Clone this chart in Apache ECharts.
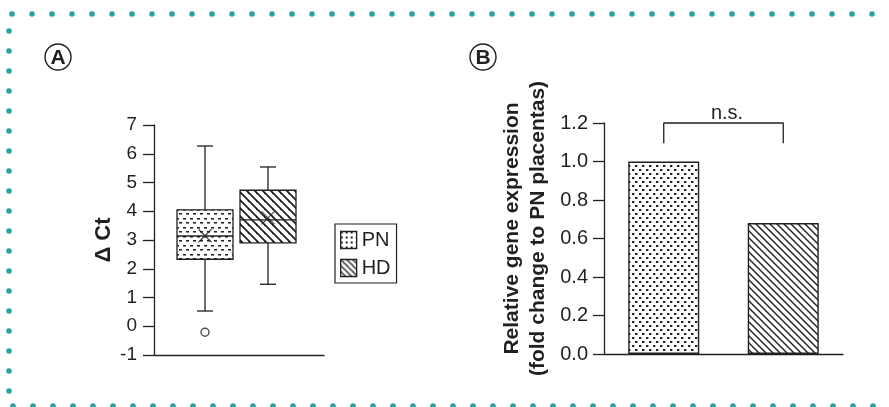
<!DOCTYPE html>
<html>
<head>
<meta charset="utf-8">
<script src="https://cdn.jsdelivr.net/npm/echarts@6/dist/echarts.min.js"></script>
<style>
html,body{margin:0;padding:0;background:#fff;}
#chart{width:889px;height:407px;}
</style>
</head>
<body>
<div id="chart"></div>
<script>
// ---------- DATA ----------
const groups = ['PN', 'HD'];
// [min, Q1, median, Q3, max]
const pnBox = [0.53, 2.33, 3.14, 4.05, 6.27];
const hdBox = [1.46, 2.90, 3.70, 4.73, 5.54];
const meanValues = [3.15, 3.77];
const pnOutliers = [-0.21];
const deltaCtTicks = { min: -1, max: 7, interval: 1 };
const relExpression = [1.0, 0.68];
const relTicks = { min: 0, max: 1.2, interval: 0.2 };
const bracketTop = 1.2;
const bracketBottom = 1.095;
const sigLabel = 'n.s.';

// ---------- STYLE ----------
const INK = '#231f20';
const TEAL = '#27a29f';
const FONT = '"Liberation Sans", Arial, Helvetica, sans-serif';

function makePattern(w, h, draw) {
  const c = document.createElement('canvas');
  c.width = w; c.height = h;
  const ctx = c.getContext('2d');
  ctx.fillStyle = '#fff';
  ctx.fillRect(0, 0, w, h);
  draw(ctx, w, h);
  return { image: c, repeat: 'repeat' };
}
function hatch(s, lw) {
  return makePattern(s, s, (ctx) => {
    ctx.strokeStyle = INK;
    ctx.lineWidth = lw;
    for (let k = -1; k <= 1; k++) {
      ctx.beginPath();
      ctx.moveTo(k * s - 1, -1);
      ctx.lineTo(k * s + s + 1, s + 1);
      ctx.stroke();
    }
  });
}
const dashPatA = makePattern(7, 9, (ctx) => {
  ctx.fillStyle = INK;
  ctx.fillRect(1, 2, 3, 1);
  ctx.fillRect(4, 6, 3, 1);
  ctx.fillStyle = 'rgba(35,31,32,0.55)';
  ctx.fillRect(1, 3, 3, 1);
  ctx.fillRect(4, 7, 3, 1);
});
const hatchPatA = hatch(8, 1.8);
const dotPatB = makePattern(7, 8, (ctx) => {
  ctx.fillStyle = INK;
  ctx.fillRect(2, 1, 2, 2);
  ctx.fillRect(5, 5, 2, 2);
  ctx.fillStyle = 'rgba(35,31,32,0.35)';
  ctx.fillRect(4, 1, 1, 2);
  ctx.fillRect(0, 5, 1, 2);
});
const hatchPatB = hatch(7, 1.4);
const legendPN = makePattern(5, 5, (ctx) => {
  ctx.fillStyle = INK;
  ctx.fillRect(0, 0, 2, 2);
});

const BOX_W = 56, CAP_W = 16;

function renderBox(pattern) {
  return function (params, api) {
    const x = api.value(0);
    const pMin = api.coord([x, api.value(1)]);
    const pQ1 = api.coord([x, api.value(2)]);
    const pMed = api.coord([x, api.value(3)]);
    const pQ3 = api.coord([x, api.value(4)]);
    const pMax = api.coord([x, api.value(5)]);
    const cx = pMed[0];
    const ls = { stroke: INK, lineWidth: 1.3 };
    return {
      type: 'group',
      children: [
        { type: 'line', shape: { x1: cx, y1: pQ3[1], x2: cx, y2: pMax[1] }, style: ls },
        { type: 'line', shape: { x1: cx, y1: pQ1[1], x2: cx, y2: pMin[1] }, style: ls },
        { type: 'line', shape: { x1: cx - CAP_W / 2, y1: pMax[1], x2: cx + CAP_W / 2, y2: pMax[1] }, style: ls },
        { type: 'line', shape: { x1: cx - CAP_W / 2, y1: pMin[1], x2: cx + CAP_W / 2, y2: pMin[1] }, style: ls },
        { type: 'rect', shape: { x: cx - BOX_W / 2, y: pQ3[1], width: BOX_W, height: pQ1[1] - pQ3[1] },
          style: { fill: pattern, stroke: INK, lineWidth: 1.3 } },
        { type: 'line', shape: { x1: cx - BOX_W / 2, y1: pMed[1], x2: cx + BOX_W / 2, y2: pMed[1] }, style: ls }
      ]
    };
  };
}

// border dots
const dots = [];
for (let x = 12; x <= 875; x += 20) {
  dots.push({ type: 'circle', shape: { cx: x, cy: 14, r: 2.8 }, style: { fill: TEAL }, silent: true });
  dots.push({ type: 'circle', shape: { cx: x + 1, cy: 406, r: 2.8 }, style: { fill: TEAL }, silent: true });
}
for (let y = 31; y <= 395; y += 20) {
  dots.push({ type: 'circle', shape: { cx: 9, cy: y, r: 2.8 }, style: { fill: TEAL }, silent: true });
}

function panelLabel(cx, cy, letter) {
  return [
    { type: 'circle', shape: { cx: cx, cy: cy, r: 13 }, style: { fill: '#fff', stroke: INK, lineWidth: 1.4 } },
    { type: 'text', x: cx, y: cy + 1, style: { text: letter, font: 'bold 21px ' + FONT, fill: INK, align: 'center', verticalAlign: 'middle' } }
  ];
}

const axisLineStyle = { show: true, onZero: false, lineStyle: { color: INK, width: 1.3 } };

const chart = echarts.init(document.getElementById('chart'), null, { renderer: 'canvas' });
chart.setOption({
  animation: false,
  backgroundColor: '#fff',
  textStyle: { fontFamily: FONT },
  grid: [
    { left: 154, top: 125, width: 170, height: 230 },
    { left: 604, top: 123, width: 239, height: 231 }
  ],
  legend: {
    orient: 'vertical',
    left: 335, top: 224,
    padding: [6, 6, 5, 5],
    borderColor: INK, borderWidth: 1.2,
    itemWidth: 16, itemHeight: 17, itemGap: 8,
    selectedMode: false,
    textStyle: { fontSize: 20, color: INK, fontFamily: FONT },
    data: [
      { name: groups[0], icon: 'rect', itemStyle: { color: legendPN, borderColor: INK, borderWidth: 1.3 } },
      { name: groups[1], icon: 'rect', itemStyle: { color: hatch(6, 1.3), borderColor: INK, borderWidth: 1.3 } }
    ]
  },
  xAxis: [
    { gridIndex: 0, type: 'value', min: 1 - 51 / 63, max: 2 + 56 / 63,
      axisLine: axisLineStyle, axisTick: { show: false }, axisLabel: { show: false }, splitLine: { show: false } },
    { gridIndex: 1, type: 'category', data: groups,
      axisLine: axisLineStyle, axisTick: { show: false }, axisLabel: { show: false }, splitLine: { show: false } }
  ],
  yAxis: [
    { gridIndex: 0, type: 'value', min: deltaCtTicks.min, max: deltaCtTicks.max, interval: deltaCtTicks.interval,
      name: 'Δ Ct', nameLocation: 'middle', nameGap: 39,
      nameTextStyle: { fontSize: 22, fontWeight: 'bold', color: INK, fontFamily: FONT },
      axisLine: axisLineStyle,
      axisTick: { show: true, length: 11, lineStyle: { color: INK, width: 1.3 } },
      axisLabel: { fontSize: 19, color: INK, margin: 17, fontFamily: FONT },
      splitLine: { show: false } },
    { gridIndex: 1, type: 'value', min: relTicks.min, max: relTicks.max, interval: relTicks.interval,
      name: 'Relative gene expression\n(fold change to PN placentas)', nameLocation: 'middle', nameGap: 53,
      nameTextStyle: { fontSize: 21, fontWeight: 'bold', color: INK, lineHeight: 26, fontFamily: FONT, padding: [0, 0, 0, 20] },
      axisLine: axisLineStyle,
      axisTick: { show: true, length: 11, lineStyle: { color: INK, width: 1.3 } },
      axisLabel: { fontSize: 20, color: INK, margin: 16, fontFamily: FONT, formatter: (v) => v.toFixed(1) },
      splitLine: { show: false } }
  ],
  series: [
    { name: groups[0], type: 'custom', xAxisIndex: 0, yAxisIndex: 0,
      renderItem: renderBox(dashPatA), encode: { x: 0, y: [1, 2, 3, 4, 5] },
      data: [[1].concat(pnBox)], itemStyle: { color: INK } },
    { name: groups[1], type: 'custom', xAxisIndex: 0, yAxisIndex: 0,
      renderItem: renderBox(hatchPatA), encode: { x: 0, y: [1, 2, 3, 4, 5] },
      data: [[2].concat(hdBox)], itemStyle: { color: INK } },
    { name: 'mean', type: 'scatter', xAxisIndex: 0, yAxisIndex: 0,
      symbol: 'path://M0 0L10 10M10 0L0 10', symbolSize: 13,
      itemStyle: { color: 'none', borderColor: INK, borderWidth: 1.3 },
      data: meanValues.map((v, i) => [i + 1, v]), z: 5 },
    { name: 'outlier', type: 'scatter', xAxisIndex: 0, yAxisIndex: 0,
      symbol: 'circle', symbolSize: 8,
      itemStyle: { color: '#fff', borderColor: INK, borderWidth: 1.4 },
      data: pnOutliers.map((v) => [1, v]), z: 5 },
    { name: 'expression', type: 'bar', xAxisIndex: 1, yAxisIndex: 1, barWidth: 71,
      data: relExpression.map((v, i) => ({ value: v,
        itemStyle: { color: i === 0 ? dotPatB : hatchPatB, borderColor: INK, borderWidth: 1.4 } })) },
    { name: 'bracket', type: 'line', xAxisIndex: 1, yAxisIndex: 1, clip: false,
      symbol: 'none', lineStyle: { color: INK, width: 1.3 },
      data: [[0, bracketBottom], [0, bracketTop], [1, bracketTop], [1, bracketBottom]] }
  ],
  graphic: dots
    .concat(panelLabel(58, 57, 'A'))
    .concat(panelLabel(483, 57, 'B'))
    .concat([{ type: 'text', x: 727, y: 113,
      style: { text: sigLabel, font: '20px ' + FONT, fill: INK, align: 'center', verticalAlign: 'middle' } }])
});
</script>
</body>
</html>
